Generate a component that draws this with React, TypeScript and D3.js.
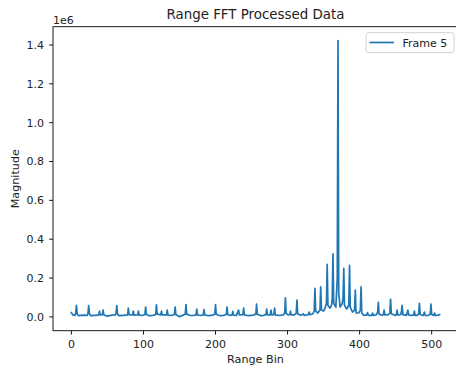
import React from "react";
import * as d3 from "d3";

// Range bins (vertices of the plotted trace) and magnitudes (units of 1e6)
const rangeBins = [
  0, 2, 5, 6, 7, 8, 10, 16, 22, 23, 24, 25, 27, 33, 38, 39, 40, 43, 44, 45, 50, 56, 61, 62, 63, 64, 66, 72, 78, 79, 80,
  85, 86, 87, 92, 93, 94, 98, 102, 103, 104, 108, 113, 117, 118, 119, 124, 125, 126, 132, 133, 134, 139, 143, 144, 145,
  150, 155, 158, 159, 160, 165, 170, 173, 174, 175, 179, 183, 184, 185, 190, 196, 199, 200, 201, 206, 211, 215, 216, 217,
  220, 223, 224, 225, 229, 232, 233, 238, 239, 240, 246, 252, 256, 257, 258, 263, 267, 270, 271, 272, 276, 277, 278, 281,
  282, 283, 288, 294, 296, 297, 298, 301, 303, 304, 305, 309, 312, 313, 314, 318, 322, 323, 327, 329, 330, 331, 335, 337,
  338, 339, 342, 345, 346, 347, 350, 352, 354, 355, 356, 359, 361, 362, 363, 364, 367, 369, 370, 371, 373, 376, 377, 378,
  379, 382, 385, 386, 387, 390, 393, 394, 395, 399, 401, 402, 403, 406, 410, 411, 412, 417, 418, 419, 423, 425, 426, 427,
  431, 433, 434, 435, 440, 442, 443, 444, 449, 451, 452, 453, 457, 458, 459, 460, 465, 467, 468, 472, 475, 476, 477, 480,
  482, 483, 484, 488, 490, 491, 495, 498, 499, 500, 503, 504, 505, 509, 511,
];
const magnitudes = [
  0.022, 0.01, 0.008, 0.02, 0.06, 0.015, 0.006, 0.009, 0.008, 0.02, 0.058, 0.014, 0.006, 0.008, 0.01, 0.03, 0.01, 0.012,
  0.035, 0.01, 0.004, 0.009, 0.01, 0.02, 0.058, 0.014, 0.006, 0.008, 0.01, 0.045, 0.012, 0.01, 0.03, 0.009, 0.01, 0.03,
  0.009, 0.007, 0.012, 0.05, 0.012, 0.006, 0.008, 0.012, 0.062, 0.014, 0.01, 0.03, 0.01, 0.01, 0.035, 0.009, 0.007, 0.012,
  0.05, 0.012, 0.001, 0.009, 0.014, 0.063, 0.014, 0.007, 0.008, 0.01, 0.04, 0.01, 0.007, 0.01, 0.038, 0.01, 0.006, 0.009,
  0.014, 0.063, 0.014, 0.006, 0.008, 0.012, 0.05, 0.012, 0.007, 0.01, 0.028, 0.009, 0.008, 0.035, 0.01, 0.012, 0.045, 0.01,
  0.006, 0.009, 0.014, 0.066, 0.014, 0.006, 0.008, 0.012, 0.04, 0.01, 0.01, 0.035, 0.01, 0.012, 0.045, 0.01, 0.007, 0.01,
  0.02, 0.098, 0.018, 0.01, 0.012, 0.03, 0.01, 0.01, 0.018, 0.086, 0.016, 0.008, 0.015, 0.008, 0.01, 0.012, 0.025, 0.012,
  0.015, 0.03, 0.147, 0.03, 0.02, 0.035, 0.155, 0.035, 0.03, 0.045, 0.07, 0.27, 0.06, 0.045, 0.06, 0.09, 0.325, 0.07, 0.05,
  0.2, 1.423, 0.12, 0.05, 0.07, 0.1, 0.25, 0.06, 0.04, 0.06, 0.265, 0.05, 0.025, 0.035, 0.138, 0.02, 0.02, 0.035, 0.155,
  0.02, 0.008, 0.01, 0.022, 0.008, 0.008, 0.02, 0.008, 0.01, 0.025, 0.075, 0.014, 0.008, 0.012, 0.035, 0.01, 0.012, 0.02,
  0.09, 0.016, 0.008, 0.01, 0.035, 0.01, 0.012, 0.025, 0.06, 0.012, 0.008, 0.035, 0.01, 0.007, 0.01, 0.03, 0.008, 0.008,
  0.015, 0.07, 0.012, 0.007, 0.025, 0.008, 0.007, 0.014, 0.066, 0.012, 0.008, 0.02, 0.007, 0.009, 0.012,
];

const xTicks = [0, 100, 200, 300, 400, 500];
const yTicks = [0, 0.2, 0.4, 0.6, 0.8, 1.0, 1.2, 1.4];
const seriesName = "Frame 5";
const titleText = "Range FFT Processed Data";
const xLabel = "Range Bin";
const yLabel = "Magnitude";
const offsetText = "1e6";

const W = 456;
const H = 367;
const left = 53;
const right = 458;
const top = 26.7;
const bottom = 330.7;
const font = "DejaVu Sans, sans-serif";
const textColor = "#222";
const lineColor = "#1f77b4";

export default function App() {
  const points = rangeBins.map((b, i) => ({ b, v: magnitudes[i] }));
  const [xMin, xMax] = d3.extent(rangeBins) as [number, number];
  const yMinData = Math.min(0, d3.min(magnitudes) as number);
  const yMaxData = d3.max(magnitudes) as number;
  const xPad = (xMax - xMin) * 0.05;
  const yPad = (yMaxData - yMinData) * 0.05;

  const x = d3.scaleLinear().domain([xMin - xPad, xMax + xPad]).range([left, right]);
  const y = d3.scaleLinear().domain([yMinData - yPad, yMaxData + yPad]).range([bottom, top]);

  const line = d3
    .line<{ b: number; v: number }>()
    .x((d) => x(d.b))
    .y((d) => y(d.v));

  const tickLen = 3.9;
  const spineColor = "#000";

  return (
    <svg
      width={W}
      height={H}
      style={{ position: "absolute", left: 0, top: 0, background: "#fff" }}
      fontFamily={font}
    >
      <rect x={0} y={0} width={W} height={H} fill="#fff" />
      <defs>
        <clipPath id="plotclip">
          <rect x={left} y={top} width={right - left} height={bottom - top} />
        </clipPath>
      </defs>

      {/* data line */}
      <path
        d={line(points) || ""}
        fill="none"
        stroke={lineColor}
        strokeWidth={1.7}
        strokeLinejoin="round"
        strokeLinecap="square"
        clipPath="url(#plotclip)"
      />

      {/* spines */}
      <rect
        x={left}
        y={top}
        width={right - left}
        height={bottom - top}
        fill="none"
        stroke={spineColor}
        strokeWidth={0.9}
      />

      {/* x ticks */}
      {xTicks.map((t) => (
        <g key={"x" + t}>
          <line x1={x(t)} x2={x(t)} y1={bottom} y2={bottom + tickLen} stroke={spineColor} strokeWidth={0.9} />
          <text x={x(t)} y={348} textAnchor="middle" fontSize={11} fill={textColor}>
            {String(t)}
          </text>
        </g>
      ))}

      {/* y ticks */}
      {yTicks.map((t) => (
        <g key={"y" + t}>
          <line x1={left - tickLen} x2={left} y1={y(t)} y2={y(t)} stroke={spineColor} strokeWidth={0.9} />
          <text x={44} y={y(t)} dy="0.36em" textAnchor="end" fontSize={11} fill={textColor}>
            {t.toFixed(1)}
          </text>
        </g>
      ))}

      {/* offset text */}
      <text x={left} y={23.5} fontSize={11} fill={textColor}>
        {offsetText}
      </text>

      {/* title */}
      <text x={(left + right) / 2} y={18.5} textAnchor="middle" fontSize={13.4} fill={textColor}>
        {titleText}
      </text>

      {/* axis labels */}
      <text x={(left + right) / 2} y={363} textAnchor="middle" fontSize={11.2} fill={textColor}>
        {xLabel}
      </text>
      <text
        transform={`translate(19,${(top + bottom) / 2}) rotate(-90)`}
        textAnchor="middle"
        fontSize={11.2}
        fill={textColor}
      >
        {yLabel}
      </text>

      {/* legend */}
      <g>
        <rect x={366} y={32.7} width={88} height={20} rx={2.5} fill="#fff" fillOpacity={0.8} stroke="#ccc" strokeWidth={0.9} />
        <line x1={369.5} x2={394} y1={42.5} y2={42.5} stroke={lineColor} strokeWidth={1.7} />
        <text x={402.5} y={46.5} fontSize={11} fill={textColor}>
          {seriesName}
        </text>
      </g>
    </svg>
  );
}
